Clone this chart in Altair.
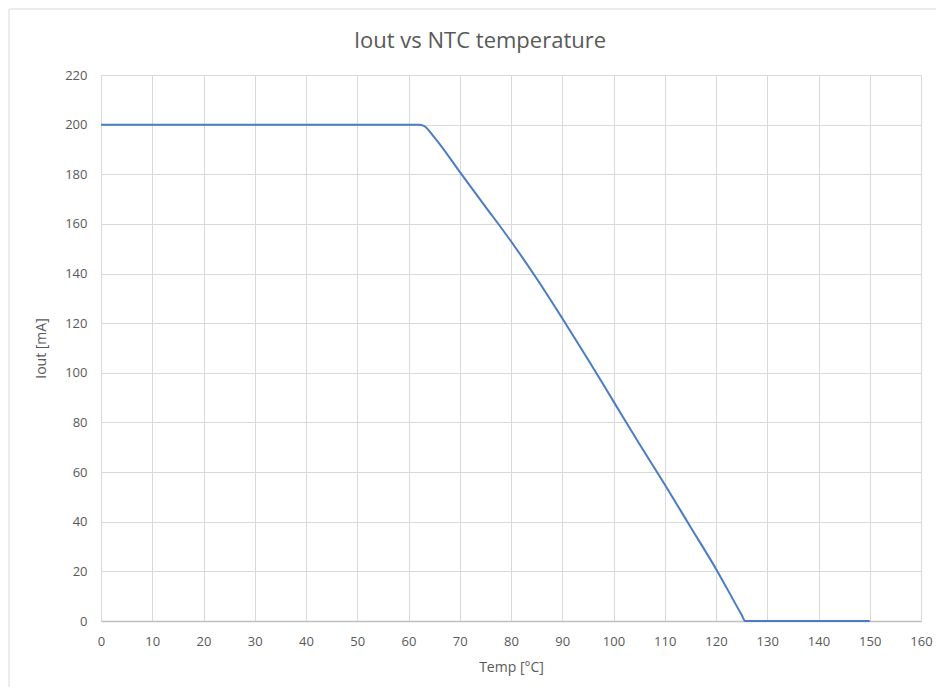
import altair as alt
import pandas as pd

title_text = "Iout vs NTC temperature"
temps = [0, 10, 20, 30, 40, 50, 60, 62, 63, 65, 70, 75, 80, 85, 90, 95, 100, 105, 110, 115, 120, 125, 125.7, 130, 140, 150]
iout = [200, 200, 200, 200, 200, 200, 200, 200, 199.5, 195, 181, 167, 153, 138, 122, 105.5, 88.5, 71.5, 55, 38, 21, 2.5, 0, 0, 0, 0]
x_ticks = list(range(0, 161, 10))
y_ticks = list(range(0, 221, 20))

df = pd.DataFrame({"Temp": temps, "Iout": iout})

W, H = 820, 546
FONT = "Open Sans"
GREY = "#595959"

one_row = alt.Data(values=[{"t": title_text}])

border = alt.Chart(one_row).mark_rect(
    fill=None, stroke="#d9d9d9", strokeWidth=1
).encode(
    x=alt.value(-92), x2=alt.value(W + 40), y=alt.value(-66), y2=alt.value(H + 90)
)

title = alt.Chart(one_row).mark_text(
    font=FONT, fontSize=22, color=GREY, align="center", baseline="alphabetic"
).encode(text="t:N", x=alt.value(W / 2 - 31), y=alt.value(-27))

line = alt.Chart(df).mark_line(color="#4a7cc6", strokeWidth=2, interpolate="monotone").encode(
    x=alt.X("Temp:Q", title="Temp [°C]",
            scale=alt.Scale(domain=[0, 160], nice=False),
            axis=alt.Axis(values=x_ticks, labelOverlap=False, labelFlush=False)),
    y=alt.Y("Iout:Q", title="Iout [mA]",
            scale=alt.Scale(domain=[0, 220], nice=False),
            axis=alt.Axis(values=y_ticks, labelOverlap=False, labelFlush=False)),
)

chart = alt.layer(border, title, line).properties(
    width=W, height=H,
    autosize=alt.AutoSizeParams(type="none"),
    padding={"left": 93, "top": 67, "right": 15, "bottom": 66},
).configure_view(stroke=None).configure_axis(
    grid=True, gridColor="#d9d9d9", gridWidth=1, ticks=False,
    domain=False, labelFont=FONT, labelFontSize=13, labelColor=GREY,
    titleFont=FONT, titleFontSize=14, titleFontWeight="normal", titleColor=GREY,
    labelPadding=14,
).configure_axisX(
    domain=True, domainColor="#bfbfbf", domainWidth=1.5, titlePadding=12,
).configure_axisY(
    titlePadding=16,
)

chart.save("out.html", embed_options={"renderer": "svg", "actions": False})
